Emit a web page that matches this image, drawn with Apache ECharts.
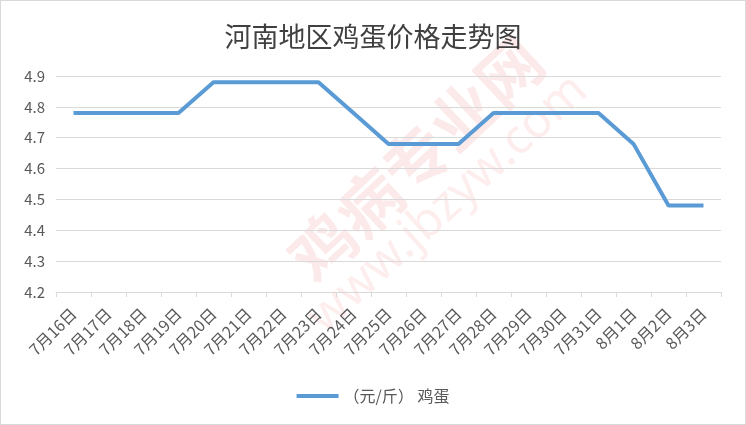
<!DOCTYPE html>
<html>
<head>
<meta charset="utf-8">
<script src="https://cdn.jsdelivr.net/npm/echarts@6/dist/echarts.min.js"></script>
<style>
  html, body { margin: 0; padding: 0; background: #fff; }
  #chart { width: 744px; height: 423px; border: 1px solid #d9d9d9; }
</style>
</head>
<body>
<div id="chart"></div>
<script>
// 日期
var categories = ['7月16日', '7月17日', '7月18日', '7月19日', '7月20日', '7月21日', '7月22日',
  '7月23日', '7月24日', '7月25日', '7月26日', '7月27日', '7月28日', '7月29日', '7月30日',
  '7月31日', '8月1日', '8月2日', '8月3日'];
// 鸡蛋价格（元/斤）
var eggPrice = [4.78, 4.78, 4.78, 4.78, 4.88, 4.88, 4.88, 4.88, 4.78, 4.68,
  4.68, 4.68, 4.78, 4.78, 4.78, 4.78, 4.68, 4.48, 4.48];
var seriesName = '（元/斤） 鸡蛋';
var yMin = 4.2, yMax = 4.9, yStep = 0.1;

var chart = echarts.init(document.getElementById('chart'));

var option = {
  animation: false,
  title: {
    text: '河南地区鸡蛋价格走势图',
    left: 'center',
    top: 17,
    textStyle: {
      fontFamily: 'Noto Sans CJK SC',
      fontSize: 27,
      fontWeight: 'normal',
      color: '#404040'
    }
  },
  legend: {
    data: [{ name: seriesName, icon: 'rect' }],
    left: 'center',
    top: 382,
    itemWidth: 42,
    itemHeight: 4,
    itemGap: 8,
    textStyle: {
      fontFamily: 'Noto Sans CJK SC',
      fontSize: 16,
      color: '#595959'
    }
  },
  grid: {
    left: 55,
    right: 24,
    top: 75,
    bottom: 132
  },
  xAxis: {
    type: 'category',
    data: categories,
    boundaryGap: true,
    axisLine: { lineStyle: { color: '#d9d9d9', width: 1 } },
    axisTick: { show: true, length: 5, lineStyle: { color: '#d9d9d9' } },
    axisLabel: {
      rotate: 45,
      interval: 0,
      margin: 19,
      fontFamily: 'Noto Sans CJK SC',
      fontSize: 16,
      color: '#595959'
    }
  },
  yAxis: {
    type: 'value',
    min: yMin,
    max: yMax,
    interval: yStep,
    axisLine: { show: false },
    axisTick: { show: false },
    splitLine: { lineStyle: { color: '#d9d9d9', width: 1 } },
    axisLabel: {
      margin: 11,
      fontFamily: 'Noto Sans CJK SC',
      fontSize: 15,
      color: '#595959',
      formatter: function (v) { return v.toFixed(1); }
    }
  },
  series: [{
    name: seriesName,
    type: 'line',
    data: eggPrice,
    symbol: 'none',
    lineStyle: { color: '#5b9bd5', width: 4 },
    itemStyle: { color: '#5b9bd5' }
  }],
  // 水印
  graphic: [
    {
      type: 'text',
      x: 415, y: 158,
      rotation: Math.PI * 0.24,
      style: {
        text: '鸡病专业网',
        fontSize: 64,
        fontWeight: 'bold',
        fontFamily: 'Noto Sans CJK SC',
        fill: 'rgba(235,90,90,0.13)',
        align: 'center',
        verticalAlign: 'middle'
      },
      silent: true
    },
    {
      type: 'text',
      x: 447, y: 203,
      rotation: Math.PI * 0.235,
      style: {
        text: 'www.jbzyw.com',
        fontSize: 48,
        fontFamily: 'Noto Sans',
        fill: 'rgba(235,90,90,0.11)',
        align: 'center',
        verticalAlign: 'middle'
      },
      silent: true
    }
  ]
};

chart.setOption(option);
</script>
</body>
</html>
